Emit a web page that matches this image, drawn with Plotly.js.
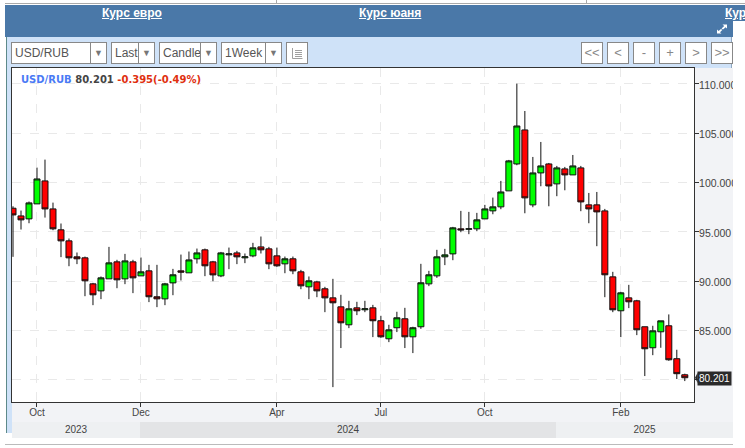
<!DOCTYPE html>
<html><head><meta charset="utf-8">
<script src="https://cdn.plot.ly/plotly-3.0.1.min.js"></script>
<style>
html,body{margin:0;padding:0;background:#fff;width:745px;height:448px;overflow:hidden;font-family:"Liberation Sans",Arial,sans-serif}
.a{position:absolute;box-sizing:border-box}
.box{background:#fff;border:1px solid #888;color:#555;font-size:12px;line-height:20px;padding-left:3px;overflow:hidden;white-space:nowrap;height:22px;top:42px}
.drop{background:#fff;border:1px solid #888;border-left:1px solid #888;color:#777;font-size:9px;line-height:20px;text-align:center;height:22px;top:42px}
.btn{background:#fff;border:1px solid #888;color:#888;font-size:13px;line-height:20px;text-align:center;width:22px;height:22px;top:42px}
.lnk{color:#fff;font-weight:bold;font-size:12px;text-decoration:underline;white-space:nowrap;top:6px}
.yr{font:10px "Liberation Sans",sans-serif;color:#444;top:422px;height:16px;line-height:15px;text-align:center}
</style></head><body>
<div class="a" style="left:5px;top:3px;width:740px;height:1px;background:#aaa"></div>
<div class="a" style="left:276px;top:0;width:1px;height:4px;background:#aaa"></div>
<div class="a" style="left:586px;top:0;width:1px;height:4px;background:#aaa"></div>
<div class="a" style="left:5px;top:5px;width:728px;height:32px;background:#4a78a8"></div>
<div class="a" style="left:733px;top:5px;width:12px;height:16px;background:#4a78a8"></div>
<div class="a lnk" id="l1" style="left:102px"></div>
<div class="a lnk" id="l2" style="left:359px"></div>
<div class="a lnk" id="l3" style="left:725px;width:20px;overflow:hidden"></div>
<svg class="a" style="left:716px;top:24px" width="12" height="10" viewBox="0 0 12 10"><path d="M6.5 0.5H11V4.5L9.6 3.2 7 5.6 5.6 4.4 8.2 2ZM1 5.5V9.5H5.5L4 8.2 6.3 6 5 4.9 2.6 7.1Z" fill="#fff"/></svg>
<div class="a" style="left:6px;top:37px;width:726px;height:31px;background:#cfe2f8"></div>
<div class="a" style="left:6px;top:37px;width:1px;height:396px;background:#5d8a8a"></div>
<div class="a" style="left:7px;top:68px;width:5px;height:365px;background:#cfe2f8"></div>
<div class="a" style="left:731px;top:37px;width:1px;height:31px;background:#8fa8c0"></div>
<div class="a box" id="t1" style="left:11px;width:80px"></div><div class="a drop" style="left:90px;width:17px">▼</div>
<div class="a box" id="t2" style="left:111px;width:28px"></div><div class="a drop" style="left:138px;width:17px">▼</div>
<div class="a box" id="t3" style="left:159px;width:42px"></div><div class="a drop" style="left:200px;width:17px">▼</div>
<div class="a box" id="t4" style="left:221px;width:45px"></div><div class="a drop" style="left:265px;width:17px">▼</div>
<div class="a box" style="left:286px;width:22px;padding:0"><svg width="20" height="20" viewBox="0 0 20 20"><path d="M5.5 5V15.5H15.5M8 7.5H15M8 9.5H15M8 11.5H15M8 13.5H15" stroke="#888" stroke-width="0.8" fill="none"/></svg></div>
<div class="a btn" id="b0" style="left:581px"></div>
<div class="a btn" id="b1" style="left:607px"></div>
<div class="a btn" id="b2" style="left:633px"></div>
<div class="a btn" id="b3" style="left:659px"></div>
<div class="a btn" id="b4" style="left:685px"></div>
<div class="a btn" id="b5" style="left:711px"></div>
<div class="a" style="left:694px;top:68px;width:39px;height:354px;background:#f2f3f6"></div>
<div class="a" style="left:12px;top:402px;width:721px;height:20px;background:#f2f3f6"></div>
<div class="a yr" id="y0" style="left:12px;width:128px;background:#eef0f2"></div>
<div class="a yr" id="y1" style="left:140px;width:416px;background:#e3e4e6"></div>
<div class="a yr" id="y2" style="left:556px;width:177px;background:#eef0f2"></div>
<div class="a" style="left:5px;top:444px;width:740px;height:1px;background:#bbb"></div>
<div class="a" id="chart" style="left:0;top:0;width:745px;height:448px"></div>
<div class="a" style="left:733px;top:37px;width:12px;height:411px;background:#fff"></div>
<script>
const navLinks = ["Курс евро", "Курс юаня", "Курс"];
const toolbarLabels = ["USD/RUB", "Last", "Candle", "1Week"];
const navButtons = ["<<", "<", "-", "+", ">", ">>"];
const yearLabels = ["2023", "2024", "2025"];
const symbol = "USD/RUB", lastPrice = 80.201, changeText = "-0.395(-0.49%)";
const tickIdx = [3, 16, 33, 46, 59, 76];
const tickMonths = ["Oct", "Dec", "Apr", "Jul", "Oct", "Feb"];
const yTicks = [80, 85, 90, 95, 100, 105, 110];
const yTickLabels = ["", "85.000", "90.000", "95.000", "100.000", "105.000", "110.000"];

const open = [97.40,96.62,96.32,97.84,100.17,97.33,95.21,94.09,92.47,92.37,
89.73,89.02,90.24,91.96,90.24,91.96,90.54,91.05,88.42,88.21,
89.83,91.05,90.85,92.27,93.18,91.96,90.54,92.67,92.87,92.37,
92.57,93.48,93.28,92.57,91.76,92.27,90.95,89.43,89.93,89.23,
88.31,87.40,85.58,87.30,87.10,87.30,85.99,84.16,85.28,86.19,
84.36,85.38,89.73,90.54,92.47,92.77,95.31,95.27,95.31,96.32,
97.13,97.54,99.16,101.89,105.34,97.74,100.98,101.89,99.87,101.39,
100.78,101.49,97.74,97.74,97.13,90.44,87.00,88.31,88.01,85.38,
83.25,84.87,85.48,82.14,80.51];
const close = [96.72,96.22,97.94,100.37,97.33,95.31,94.09,92.37,92.27,90.04,
88.62,90.34,91.86,90.14,92.06,90.34,90.95,88.42,88.21,89.73,
90.65,90.92,92.16,92.87,91.56,90.64,92.87,92.77,92.47,92.47,
93.38,93.18,91.76,91.56,92.27,91.05,89.53,90.04,89.02,88.31,
87.81,85.78,87.20,87.00,87.20,85.99,84.36,85.07,86.29,84.36,
85.28,89.84,90.65,92.47,92.67,95.41,95.20,95.31,96.22,97.33,
97.54,99.05,102.20,105.74,98.45,100.98,101.69,99.66,101.49,100.78,
101.69,98.04,97.33,97.03,90.65,87.10,88.82,87.91,85.07,83.15,
84.97,85.98,82.03,80.62,80.21];
const high = [97.60,97.16,98.08,101.52,102.33,97.97,95.85,94.33,92.91,92.50,
89.83,90.48,93.48,92.17,92.77,92.17,92.40,91.66,91.66,89.83,
91.25,92.70,93.01,93.31,93.31,92.06,92.97,93.41,93.08,92.81,
93.89,94.53,93.48,93.41,92.50,92.50,91.15,90.48,90.04,89.43,
90.24,88.62,88.01,87.91,88.01,87.60,86.49,85.58,86.90,87.30,
85.38,91.76,91.05,93.18,93.28,95.51,97.13,97.03,96.93,97.74,
98.48,100.17,102.30,110.03,107.26,102.60,104.12,101.99,101.69,101.59,
102.80,101.69,98.95,99.05,97.33,90.95,88.92,89.63,88.11,85.38,
85.48,85.98,86.63,83.05,80.62];
const low = [92.47,95.24,95.88,97.84,96.45,95.17,92.44,91.52,91.73,88.48,
87.57,88.18,90.24,89.29,89.70,88.79,90.54,87.88,87.37,87.57,
88.58,90.07,90.85,91.79,90.51,90.00,90.41,91.22,91.73,91.83,
92.43,92.81,91.22,91.46,90.81,90.71,89.19,88.18,88.38,86.86,
79.26,83.22,85.24,86.56,86.86,84.33,84.26,83.82,84.84,83.22,
82.71,85.17,89.50,90.34,91.63,92.13,94.97,94.77,95.07,96.32,
96.79,97.30,99.16,101.76,96.89,97.50,99.63,97.60,98.62,99.22,
100.78,97.10,95.88,93.55,88.38,86.86,84.33,87.27,84.53,80.38,
82.50,83.25,81.93,80.08,79.87];
const weekIdx = open.map((_, i) => i);

navLinks.forEach((t, i) => document.getElementById("l" + (i + 1)).textContent = t);
toolbarLabels.forEach((t, i) => document.getElementById("t" + (i + 1)).textContent = t);
navButtons.forEach((t, i) => document.getElementById("b" + i).textContent = t);
yearLabels.forEach((t, i) => document.getElementById("y" + i).textContent = t);

const axisFont = {family: '"Liberation Sans", sans-serif', size: 10, color: "#444"};
const yAxisFont = {family: '"Liberation Sans", sans-serif', size: 10.5, color: "#444"};
const legendText = `<b><span style="color:#4a7af5">${symbol}</span> <span style="color:#444">${lastPrice.toFixed(3)}</span> <span style="color:#e03010">${changeText}</span></b>`;

Plotly.newPlot("chart", [{
  type: "candlestick", x: weekIdx, open, high, low, close,
  increasing: {line: {color: "#111", width: 1}, fillcolor: "#00ff00"},
  decreasing: {line: {color: "#111", width: 1}, fillcolor: "#ff0000"},
  hoverinfo: "none", showlegend: false
}], {
  width: 745, height: 448, boxgap: 0.25, boxgroupgap: 0,
  margin: {l: 11.5, r: 51.3, t: 68.3, b: 45.5, pad: 0},
  paper_bgcolor: "rgba(0,0,0,0)", plot_bgcolor: "#fff", showlegend: false, dragmode: false,
  xaxis: {type: "linear", range: [-0.125, 85.15], rangeslider: {visible: false}, tickmode: "array",
    tickvals: tickIdx, ticktext: tickMonths, ticks: "outside", ticklen: 4, tickcolor: "#333",
    ticklabelstandoff: -3,
    showgrid: true, gridcolor: "#e9e9e9", griddash: "dash", gridwidth: 1, zeroline: false,
    showline: true, mirror: true, linecolor: "#333", linewidth: 1, tickfont: axisFont},
  yaxis: {side: "right", range: [77.75, 111.62], tickmode: "array", tickvals: yTicks,
    ticktext: yTickLabels, ticks: "outside", ticklen: 4, tickcolor: "#333",
    ticklabelstandoff: -2, ticklabelshift: 1,
    showgrid: true, gridcolor: "#e9e9e9", griddash: "dash", gridwidth: 1, zeroline: false,
    showline: true, mirror: true, linecolor: "#333", linewidth: 1, tickfont: yAxisFont},
  shapes: [{type: "path", xref: "paper", yref: "y", layer: "above", line: {width: 0}, fillcolor: "#2a2a2a",
    path: "M 1.0015 80.2 L 1.0055 80.75 L 1.0055 79.65 Z"}],
  annotations: [
    {xref: "paper", yref: "paper", x: 0.0115, y: 0.9865, xanchor: "left", yanchor: "top", showarrow: false,
     text: legendText, font: {family: '"DejaVu Sans", sans-serif', size: 10}, borderpad: 0},
    {xref: "paper", yref: "y", x: 1.0048, y: 80.15, xanchor: "left", yanchor: "middle", showarrow: false,
     text: lastPrice.toFixed(3), font: {family: '"Liberation Sans", sans-serif', size: 10, color: "#fff"},
     bgcolor: "#2a2a2a", borderpad: 1}
  ]
}, {staticPlot: true, displayModeBar: false});
</script>
</body></html>
